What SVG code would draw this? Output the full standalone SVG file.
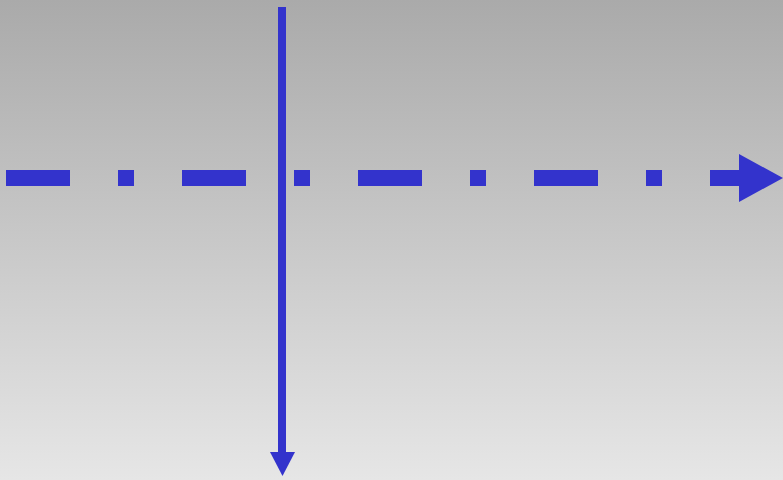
<svg xmlns="http://www.w3.org/2000/svg" width="783" height="480" viewBox="0 0 783 480">
<defs>
<linearGradient id="bg" x1="0" y1="0" x2="0" y2="1">
<stop offset="0" stop-color="#aaaaaa"/>
<stop offset="1" stop-color="#e6e6e6"/>
</linearGradient>
<style>
.ln{stroke:#3333cc;fill:none}
.hd{fill:#3333cc}
</style>
</defs>
<rect width="783" height="480" fill="url(#bg)"/>
<g id="connectors">
<g id="horizontal-axis">
<line class="ln" x1="6" y1="178" x2="740" y2="178" stroke-width="16" stroke-dasharray="64 48 16 48"/>
<polygon class="hd" points="739,154 783,178 739,202"/>
</g>
<g id="vertical-axis">
<line class="ln" x1="282" y1="7" x2="282" y2="453" stroke-width="8"/>
<polygon class="hd" points="270,452 295,452 282.5,476"/>
</g>
</g>
</svg>
